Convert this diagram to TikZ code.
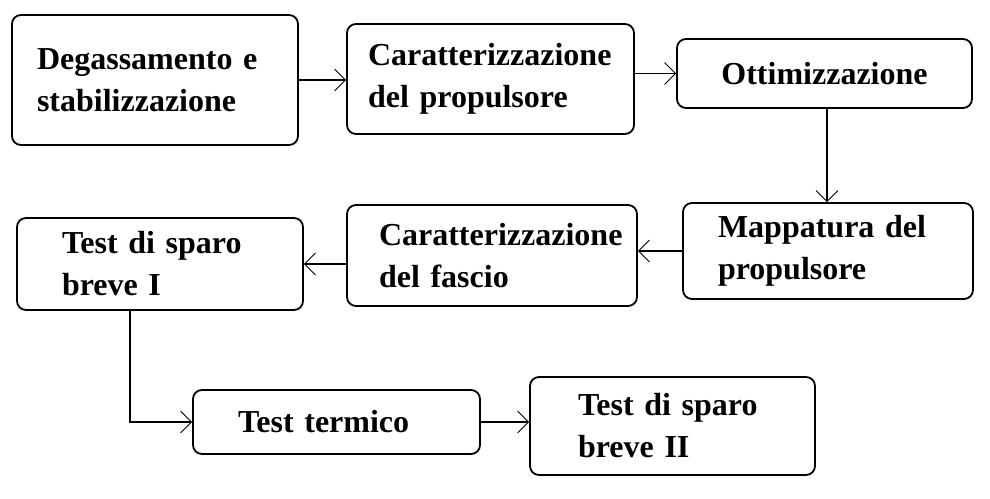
\documentclass[tikz,border=0pt]{standalone}
\usepackage{fontspec}
\setmainfont{Liberation Serif}
\usetikzlibrary{arrows.meta,calc}
\begin{document}
\begin{tikzpicture}[x=1pt,y=1pt]
\tikzset{
  box/.style={draw, line width=1.8pt, rounded corners=9pt, inner ysep=0pt,
    align=left, font=\bfseries\fontsize{32}{42}\selectfont},
  arr/.style={line width=1.5pt,
    -{Straight Barb[length=11pt,width=22pt,line width=0.8pt]}}
}
\useasboundingbox[fill=white] (0,0) rectangle (990,498);
\node[box, minimum height=130pt, text width=236pt, inner xsep=25pt] (b1) at (155,418)
  {\mbox{Degassamento e}\\\mbox{stabilizzazione}};
\node[box, minimum height=110pt, text width=245pt, inner xsep=21pt] (b2) at (490.5,419)
  {\mbox{Caratterizzazione}\\\mbox{del propulsore}};
\node[box, minimum height=69pt, text width=255pt, inner xsep=20pt, align=center] (b3) at (824.5,424.5)
  {\mbox{Ottimizzazione}};
\node[box, minimum height=96pt, text width=220pt, inner xsep=35pt] (b4) at (828,247)
  {\mbox{Mappatura del}\\\mbox{propulsore}};
\node[box, minimum height=101pt, text width=226pt, inner xsep=32pt] (b5) at (492,242.5)
  {\mbox{Caratterizzazione}\\\mbox{del fascio}};
\node[box, minimum height=92pt, text width=196pt, inner xsep=45pt] (b6) at (160,234)
  {\mbox{Test di sparo}\\\mbox{breve I}};
\node[box, minimum height=64pt, text width=197pt, inner xsep=45pt] (b7) at (336.5,76)
  {\mbox{Test termico}};
\node[box, minimum height=98pt, text width=189pt, inner xsep=48pt] (b8) at (672.5,72)
  {\mbox{Test di sparo}\\\mbox{breve II}};
\coordinate (t3) at ($(b3.south)+(2.5,0)$);
\coordinate (t6) at ($(b6.south)+(-30,0)$);
\draw[arr] (b1.east) -- (b1.east -| b2.west);
\draw[arr] (b3.west -| b2.east) -- (b3.west);
\draw[arr] (t3) -- (t3 |- b4.north);
\draw[arr] (b4.west) -- (b4.west -| b5.east);
\draw[arr] (b5.west |- b6.east) -- (b6.east);
\draw[arr] (t6) |- (b7.west);
\draw[arr] (b7.east) -- (b7.east -| b8.west);
\end{tikzpicture}
\end{document}
